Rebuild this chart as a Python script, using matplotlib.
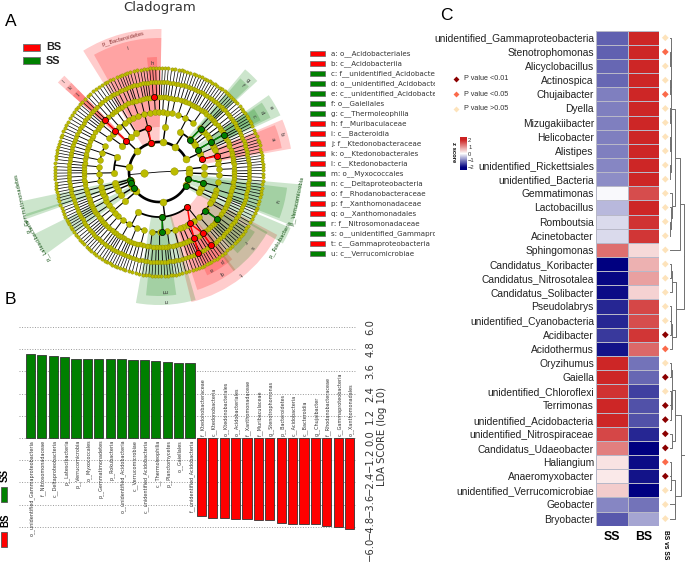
import numpy as np
import matplotlib
matplotlib.use('Agg')
import matplotlib.pyplot as plt
from matplotlib.colors import LinearSegmentedColormap
from matplotlib.patches import Rectangle
from matplotlib.transforms import Bbox, TransformedBbox

W, H = 685, 562
RED = '#ff0000'
GREEN = '#008000'
YELLOW = '#bcbc00'

# ---- panel A: clade boundaries (degrees, clockwise around the ring)
phylum_edges = [122, 89, 75, 40, 10, 2, -6, -22, -30, -135, -144, -153.5, -160.5, -163, -168, -210, -238]
class_edges = [122, 119, 89, 75, 50, 42.5, 40, 35, 25, 23, 10, 2, -6, -21, -22, -30, -72, -100, -135, -144,
               -153.5, -160.5, -163, -168, -190, -210, -221.5, -225.5, -238]
family_edges = [122, 119, 113, 107, 101, 96, 91, 89, 84, 80, 75, 68, 60, 50, 45, 42.5, 40, 35, 33.5, 27, 25, 23,
                19, 14, 10, 5, 0, -6, -13, -21, -22, -26, -30, -32, -46, -50, -59, -65, -68, -72, -78, -86, -93,
                -100, -108, -116, -124, -130, -135, -140, -144, -149, -153.5, -157, -160.5, -163, -168, -175,
                -182, -188, -195, -202, -210, -218, -221.5, -225.5, -232, -238]
family_leaves = [2, 3, 4, 3, 3, 3, 1, 3, 2, 3,
                 4, 5, 6, 3, 2, 1, 3, 1, 4, 1,
                 1, 2, 3, 2, 3, 3, 3, 4, 4, 1,
                 2, 2, 1, 8, 2, 5, 4, 2, 2, 3,
                 5, 4, 4, 4, 5, 5, 3, 3, 3, 2,
                 3, 3, 2, 2, 1, 3, 4, 4, 3, 4,
                 4, 4, 4, 2, 2, 3, 3]
family_genera = [2, 2, 3, 2, 3, 2, 1, 3, 2, 2,
                 3, 4, 5, 2, 2, 1, 2, 1, 3, 1,
                 1, 2, 2, 2, 3, 2, 3, 3, 3, 1,
                 2, 2, 1, 6, 2, 4, 3, 2, 2, 2,
                 4, 3, 3, 3, 4, 4, 3, 2, 3, 2,
                 2, 3, 2, 2, 1, 2, 3, 3, 3, 3,
                 3, 3, 3, 2, 2, 2, 3]
kingdom_angles = [185, 3]

# highlighted nodes (radius, angle)
bs_nodes = [(30, 105.5), (45, 104), (75, 93.5), (75, 136.5), (60, 136.5), (45, 136.5), (45, 16.5), (60, 15.5),
            (45, -51), (60, -59), (75, -54.5), (75, -62), (90, -54.5), (90, -64)]
ss_nodes = [(45, 46), (60, 46), (45, 30), (60, 30), (75, 30), (30, -14), (45, -14), (30, -27), (60, -40),
            (75, -39), (45, -86), (60, -87), (30, 195), (30, 202), (30, 212)]
bs_chains = [[(45, 136.5), (60, 136.5), (75, 136.5)], [(30, 105.5), (45, 104)], [(45, 16.5), (60, 15.5)],
             [(45, -51), (60, -59)], [(60, -59), (75, -54.5), (90, -54.5)], [(60, -59), (75, -62), (90, -64)]]
ss_chains = [[(45, 46), (60, 46)], [(45, 30), (60, 30), (75, 30)], [(30, -14), (45, -14)],
             [(45, -86), (60, -87)], [(60, -40), (75, -39)]]

# background wedges: hi angle, lo angle, inner r, outer r
bs_wedges = [(122, 89, 30, 143), (119, 89, 45, 134), (96, 91, 75, 115),
             (138.5, 134.5, 45, 135), (138.5, 134.5, 60, 125), (138.5, 134.5, 75, 115),
             (23, 10, 45, 134), (22, 11, 60, 125),
             (-28, -76, 45, 134), (-52, -72, 60, 124), (-50, -59, 75, 114), (-59, -65, 75, 114)]
ss_wedges = [(50, 42.8, 45, 134), (49, 43.5, 60, 124), (35, 25, 45, 134), (34, 26, 60, 124), (33.5, 27, 75, 114),
             (-5, -22, 30, 143), (-7, -21, 45, 129), (-23, -30, 30, 143),
             (-29, -53, 60, 124), (-32, -46, 75, 113),
             (-74, -100, 45, 133), (-82, -96, 60, 124),
             (216, 206.5, 30, 140), (199.5, 192, 30, 140), (198.5, 197.5, 30, 140)]
wedge_letters = [('j', 136.5, 112), ('k', 136.5, 122), ('l', 136.5, 131), ('h', 93.5, 109), ('i', 104, 127),
                 ('a', 16, 118), ('b', 17, 128), ('c', 30, 110), ('d', 30, 119), ('e', 30, 129),
                 ('f', 46, 120), ('g', 46, 128), ('o', -61.6, 110), ('p', -55, 109), ('q', -58.5, 119),
                 ('t', -51.6, 130), ('r', -39, 111), ('s', -39, 119), ('n', -87, 129), ('m', -87, 119),
                 ('u', -14, 121)]
phylum_labels = [('p__Bacteroidetes', 105, 138), ('p__Gemmatimonadetes', 192.8, 140),
                 ('p__Latescibacteria', 209, 139), ('p__Verrucomicrobia', -12, 141),
                 ('p__Rokubacteria', -29, 139)]

legend_names = ['a: o__Acidobacteriales', 'b: c__Acidobacteriia', 'c: f__unidentified_Acidobacteria',
                'd: o__unidentified_Acidobacteria', 'e: c__unidentified_Acidobacteria', 'f: o__Gaiellales',
                'g: c__Thermoleophilia', 'h: f__Muribaculaceae', 'i: c__Bacteroidia', 'j: f__Ktedonobacteraceae',
                'k: o__Ktedonobacterales', 'l: c__Ktedonobacteria', 'm: o__Myxococcales',
                'n: c__Deltaproteobacteria', 'o: f__Rhodanobacteraceae', 'p: f__Xanthomonadaceae',
                'q: o__Xanthomonadales', 'r: f__Nitrosomonadaceae', 's: o__unidentified_Gammaproteobacteria',
                't: c__Gammaproteobacteria', 'u: c__Verrucomicrobiae']
legend_groups = ['BS', 'BS', 'SS', 'SS', 'SS', 'SS', 'SS', 'BS', 'BS', 'BS', 'BS', 'BS', 'SS', 'SS', 'BS', 'BS',
                 'BS', 'SS', 'SS', 'BS', 'SS']

# ---- panel B
ss_taxa = ['o__unidentified_Gammaproteobacteria', 'f__Nitrosomonadaceae', 'c__Deltaproteobacteria',
           'p__Latescibacteria', 'p__Verrucomicrobia', 'o__Myxococcales', 'p__Gemmatimonadetes', 'p__Rokubacteria',
           'o__unidentified_Acidobacteria', 'c__Verrucomicrobiae', 'c__unidentified_Acidobacteria',
           'c__Thermoleophilia', 'p__Planctomycetes', 'o__Gaiellales', 'f__unidentified_Acidobacteria']
ss_lda = [4.52, 4.49, 4.43, 4.40, 4.27, 4.27, 4.25, 4.25, 4.25, 4.23, 4.22, 4.18, 4.11, 4.07, 4.05]
bs_taxa = ['f__Ktedonobacteraceae', 'c__Ktedonobacteria', 'o__Ktedonobacterales', 'o__Acidobacteriales',
           'f__Xanthomonadaceae', 'f__Muribaculaceae', 'g__Stenotrophomonas', 'p__Bacteroidetes', 'c__Acidobacteria',
           'c__Bacteroidia', 'g__Chujaibacter', 'f__Rhodanobacteraceae', 'c__Gammaproteobacteria',
           'o__Xanthomonadales']
bs_lda = [-4.20, -4.31, -4.32, -4.36, -4.38, -4.43, -4.45, -4.61, -4.63, -4.65, -4.67, -4.74, -4.79, -4.90]
lda_ticks = [6.0, 4.8, 3.6, 2.4, 1.2, 0.0, -1.2, -2.4, -3.6, -4.8, -6.0]

# ---- panel C
genera = ['unidentified_Gammaproteobacteria', 'Stenotrophomonas', 'Alicyclobacillus', 'Actinospica', 'Chujaibacter',
          'Dyella', 'Mizugakiibacter', 'Helicobacter', 'Alistipes', 'unidentified_Rickettsiales',
          'unidentified_Bacteria', 'Gemmatimonas', 'Lactobacillus', 'Romboutsia', 'Acinetobacter', 'Sphingomonas',
          'Candidatus_Koribacter', 'Candidatus_Nitrosotalea', 'Candidatus_Solibacter', 'Pseudolabrys',
          'unidentified_Cyanobacteria', 'Acidibacter', 'Acidothermus', 'Oryzihumus', 'Gaiella',
          'unidentified_Chloroflexi', 'Terrimonas', 'unidentified_Acidobacteria', 'unidentified_Nitrospiraceae',
          'Candidatus_Udaeobacter', 'Haliangium', 'Anaeromyxobacter', 'unidentified_Verrucomicrobiae', 'Geobacter',
          'Bryobacter']
z_ss = [-1.25, -1.25, -1.2, -1.2, -1.0, -1.0, -1.0, -1.0, -1.0, -0.95, -0.9, -0.05, -0.55, -0.3, -0.3, 1.3,
        -2.0, -1.95, -1.9, -1.7, -1.7, -1.55, -1.85, 1.95, 1.95, 1.85, 1.95, 1.95, 1.65, 1.15, 0.25, 0.2, 0.45,
        -0.95, -1.3]
z_bs = [1.95, 1.95, 1.95, 1.95, 1.95, 1.95, 1.95, 1.95, 1.95, 1.95, 1.95, 1.6, 1.95, 1.85, 1.8, 0.35,
        0.7, 0.85, 0.4, 1.65, 1.6, 1.8, 1.35, -1.1, -1.2, -1.5, -1.35, -1.35, -1.7, -2.0, -1.9, -1.85, -2.0,
        -1.1, -0.7]
p_class = [0, 1, 0, 0, 1, 0, 0, 0, 0, 0, 0, 0, 0, 0, 0, 0, 0, 0, 0, 0, 0, 2, 1, 0, 2, 0, 2, 2, 2, 2, 1, 2, 0, 0, 0]
p_colors = ['#fde3bb', '#fb6a4a', '#8b0000']
p_names = ['P value >0.05', 'P value <0.05', 'P value <0.01']

# dendrogram merges, leaves are the rows 0..34, new nodes count up from 35
merge_a = [1, 0, 3, 36, 5, 7, 39, 9, 41, 38, 13, 12, 11, 44, 48, 16, 50, 19, 52, 53, 51, 49, 23, 25, 58, 57, 28, 60,
           30, 63, 33, 64, 62, 56]
merge_b = [2, 35, 4, 37, 6, 8, 40, 10, 42, 43, 14, 45, 46, 47, 15, 17, 18, 20, 21, 22, 54, 55, 24, 26, 27, 59, 29, 61,
           31, 32, 34, 65, 66, 67]
merge_h = [.3, .6, .4, 1.0, .3, .3, .6, .4, 1.0, 1.3, .5, 1.0, 2.5, 5.5, 10.5, 1.5, 2.5, .8, 1.5, 2.5, 6.5, 14.5, .8,
           .8, 1.2, 1.8, 2.5, 5.5, .8, 1.3, 5.0, 5.5, 11.5, 15.0]


def px_rect(x0, y0, x1, y1):
    return [x0 / W, 1 - y1 / H, (x1 - x0) / W, (y1 - y0) / H]


fig = plt.figure(figsize=(W / 100, H / 100), dpi=100)

# ---- cladogram, polar axes where one r unit is one pixel
ax = fig.add_axes(px_rect(159 - 160, 172 - 160, 159 + 160, 172 + 160), projection='polar')
ax.patch.set_visible(False)
ax.axis('off')


def arc(r, a0, a1, lw):
    t = np.radians(np.linspace(a0, a1, max(2, int(abs(a1 - a0)) + 2)))
    ax.plot(t, np.full(len(t), r), color='black', lw=lw, zorder=3, solid_capstyle='butt')


def spoke(a, r0, r1, lw):
    t = np.radians(a)
    ax.plot([t, t], [r0, r1], color='black', lw=lw, zorder=3, solid_capstyle='butt')


def dots(angles, r, size):
    ax.plot(np.radians(angles), np.full(len(angles), r), 'o', ms=size, mfc=YELLOW, mec='#8c8c00', mew=0.3, zorder=4)


for hi, lo, r0, r1 in bs_wedges:
    ax.bar(np.radians((hi + lo) / 2), r1 - r0, width=np.radians(hi - lo), bottom=r0, color=RED, alpha=0.2, lw=0, zorder=1)
for hi, lo, r0, r1 in ss_wedges:
    ax.bar(np.radians((hi + lo) / 2), r1 - r0, width=np.radians(hi - lo), bottom=r0, color=GREEN, alpha=0.2, lw=0, zorder=1)

level_edges = [phylum_edges, class_edges, family_edges]
level_radii = [30, 45, 60]
level_lw = [1.9, 1.3, 1.0]
level_size = [5.0, 4.6, 4.2]
level_mids = [(np.array(e[:-1]) + np.array(e[1:])) / 2 for e in level_edges]

# kingdoms to phyla
spoke(kingdom_angles[0], 0, 30, 0.6)
spoke(kingdom_angles[1], 0, 30, 0.6)
arc(30, 25, 334, 1.9)
arc(30, 6, -2, 1.2)
dots(kingdom_angles, 15, 5.4)

for lev in range(2):
    edges = level_edges[lev]
    child_mids = level_mids[lev + 1]
    for i, mid in enumerate(level_mids[lev]):
        kids = child_mids[(child_mids <= edges[i]) & (child_mids > edges[i + 1])]
        if len(kids) == 0:
            continue
        spoke(mid, level_radii[lev], level_radii[lev + 1], level_lw[lev + 1] * 0.8)
        arc(level_radii[lev + 1], min(kids.min(), mid), max(kids.max(), mid), level_lw[lev + 1])

genus_all = []
leaf_all = []
for i, mid in enumerate(level_mids[2]):
    hi, lo = family_edges[i], family_edges[i + 1]
    n = family_leaves[i]
    leaves = hi - (np.arange(n) + 0.5) * (hi - lo) / n
    groups = np.array_split(leaves, family_genera[i])
    g_mids = [g.mean() for g in groups]
    spoke(mid, 60, 75, 0.7)
    if len(g_mids) > 1:
        arc(75, g_mids[0], g_mids[-1], 0.7)
    for g, gm in zip(groups, g_mids):
        spoke(gm, 75, 90, 0.6)
        if len(g) > 1:
            arc(90, g[0], g[-1], 0.5)
        for a in g:
            spoke(a, 90, 104, 0.5)
    genus_all += g_mids
    leaf_all += list(leaves)

for lev in range(3):
    dots(level_mids[lev], level_radii[lev], level_size[lev])
dots(genus_all, 75, 3.6)
dots(leaf_all, 90, 3.0)
dots(leaf_all, 104, 2.4)

for chain in bs_chains:
    ax.plot(np.radians([c[1] for c in chain]), [c[0] for c in chain], color=RED, lw=1.1, zorder=5)
for chain in ss_chains:
    ax.plot(np.radians([c[1] for c in chain]), [c[0] for c in chain], color=GREEN, lw=1.1, zorder=5)
for nodes, col in [(bs_nodes, RED), (ss_nodes, GREEN)]:
    ax.plot(np.radians([n[1] for n in nodes]), [n[0] for n in nodes], 'o', ms=4.4, mfc=col, mec='black', mew=0.5, zorder=6)

for letter, a, r in wedge_letters:
    ax.text(np.radians(a), r, letter, fontsize=4, color='#333333', ha='center', va='center', rotation=a - 90, zorder=7)
for name, a, r in phylum_labels:
    col = '#8a3030' if name == 'p__Bacteroidetes' else '#0f4f0f'
    rot = a - 90 if a > 0 else a + 90
    ax.text(np.radians(a), r, name, fontsize=3.7, color=col, ha='center', va='center', rotation=rot,
            rotation_mode='anchor', zorder=7)
ax.set_xlim(0, 2 * np.pi)
ax.set_ylim(0, 160)

# ---- full figure overlay in pixels for the free standing texts and legends
ov = fig.add_axes([0, 0, 1, 1], zorder=5)
ov.set_xlim(0, W)
ov.set_ylim(H, 0)
ov.axis('off')
ov.patch.set_visible(False)

ov.text(160, 7, 'Cladogram', fontsize=9.5, color='#333333', ha='center', va='center')
for lab, x, y in [('A', 11, 21), ('B', 10, 300), ('C', 446, 15)]:
    ov.text(x, y, lab, fontsize=12.5, family='Liberation Sans', ha='center', va='center')

for y, name, col in [(47.5, 'BS', RED), (60.5, 'SS', GREEN)]:
    ov.add_patch(Rectangle((23.5, y - 3.5), 17, 7, fc=col, ec='#777777', lw=0.7))
    ov.text(46, y, name, fontsize=7.8, fontweight='bold', family='Liberation Sans', va='center', color='#222222')

clip = TransformedBbox(Bbox([[300, 0], [435, H]]), ov.transData)
for i, (name, grp) in enumerate(zip(legend_names, legend_groups)):
    y = 53.7 + i * 10
    ov.add_patch(Rectangle((310.5, y - 2.5), 15, 5, fc=RED if grp == 'BS' else GREEN, ec='#666666', lw=0.5))
    t = ov.text(331, y, name, fontsize=5.1, color='#333333', va='center', clip_on=True)
    t.set_clip_box(clip)

for y0, y1, ty, name, col in [(487, 502, 475, 'SS', GREEN), (532, 547, 520, 'BS', RED)]:
    ov.add_patch(Rectangle((1, y0), 6, y1 - y0, fc=col, ec='#555555', lw=0.6))
    ov.text(5, ty, name, fontsize=7, fontweight='bold', family='Liberation Sans', rotation=90, ha='center', va='center')

# ---- LDA bars, sideways
bx = fig.add_axes(px_rect(19, 327, 357, 549), zorder=2)
bx.patch.set_visible(False)
bx.set_xlim(-1.0, 28.65)
bx.set_ylim(-6, 6)
n_ss = len(ss_lda)
x_ss = np.arange(n_ss)
x_bs = np.arange(len(bs_lda)) + n_ss
bx.bar(x_ss, ss_lda, width=0.82, color=GREEN, edgecolor='#333333', lw=0.6, zorder=3)
bx.bar(x_bs, bs_lda, width=0.82, color=RED, edgecolor='#333333', lw=0.6, zorder=3)
for x, name in zip(x_ss, ss_taxa):
    bx.text(x + 0.15, -0.1, name, rotation=90, fontsize=3.5, color='#333333', ha='center', va='top')
for x, name in zip(x_bs, bs_taxa):
    bx.text(x + 0.12, 0.1, name, rotation=90, fontsize=3.5, color='#333333', ha='center', va='bottom')
bx.set_yticks(lda_ticks)
bx.set_yticklabels([f'{v:.1f}'.replace('-', '\u2212') for v in lda_ticks], rotation=90, va='center', fontsize=7.2, color='#333333')
bx.yaxis.tick_right()
bx.tick_params(axis='y', length=0, pad=6)
bx.set_xticks([])
bx.grid(axis='y', color='#999999', ls=':', lw=0.7, zorder=0)
for s in bx.spines.values():
    s.set_visible(False)
ov.text(382, 437, 'LDA SCORE (log 10)', rotation=90, fontsize=7.2, color='#333333', ha='center', va='center')

# ---- heatmap
hm = fig.add_axes(px_rect(596, 30.7, 659.3, 525.7), zorder=3)
cmap = LinearSegmentedColormap.from_list('zs', [(0, '#000080'), (0.083, '#000080'), (0.5, '#ffffff'), (0.917, '#cc2222'), (1, '#cc2222')])
z = np.column_stack([z_ss, z_bs])
mesh = hm.pcolormesh(z, cmap=cmap, vmin=-2.4, vmax=2.4, edgecolors='#b8b8c8', linewidth=0.4)
hm.set_ylim(len(genera), 0)
hm.set_xlim(0, 2)
rows = np.arange(len(genera)) + 0.5
hm.set_yticks(rows)
hm.set_yticklabels(genera, fontsize=7.4, family='Liberation Sans', color='#222222')
hm.set_xticks([0.5, 1.5])
hm.set_xticklabels(['SS', 'BS'], fontsize=8.8, fontweight='bold', family='Liberation Sans')
hm.tick_params(length=0, pad=1.5)
hm.tick_params(axis='x', pad=4)
for s in hm.spines.values():
    s.set_visible(False)
hm.scatter(np.full(len(rows), 2.19), rows, marker='D', s=12, c=[p_colors[c] for c in p_class], linewidths=0, clip_on=False)
ov.text(665.5, 530, 'BS vs SS', rotation=270, fontsize=4.8, fontweight='bold', family='Liberation Sans', ha='center', va='top')

# ---- dendrogram next to the heatmap
dn = fig.add_axes(px_rect(670, 30.7, 685, 525.7), zorder=3)
dn.set_xlim(0, 15.5)
dn.set_ylim(len(genera), 0)
dn.axis('off')
node_y = list(rows)
node_h = [0.0] * len(rows)
for a, b, h in zip(merge_a, merge_b, merge_h):
    dn.plot([node_h[a], h, h, node_h[b]], [node_y[a], node_y[a], node_y[b], node_y[b]], color='#707070', lw=0.7, clip_on=False)
    node_y.append((node_y[a] + node_y[b]) / 2)
    node_h.append(h)

# ---- colour bar and p value key
cax = fig.add_axes(px_rect(459.7, 137, 466.7, 170), zorder=3)
cb = fig.colorbar(mesh, cax=cax, ticks=[2, 1, 0, -1, -2])
cb.outline.set_visible(False)
cb.ax.tick_params(length=0, pad=1, labelsize=4.2, labelcolor='#333333')
for lab in cb.ax.get_yticklabels():
    lab.set_family('Liberation Sans')
ov.text(453.7, 152.5, 'z score', rotation=270, fontsize=4.2, fontweight='bold', family='Liberation Sans', ha='center', va='center')

for y, c in zip([108.7, 94, 79], range(3)):
    ov.scatter([456], [y], marker='D', s=9, color=p_colors[c], linewidths=0)
    ov.text(463.7, y, p_names[c], fontsize=5.2, family='Liberation Sans', color='#333333', va='center')

fig.savefig('out.png', dpi=100)
